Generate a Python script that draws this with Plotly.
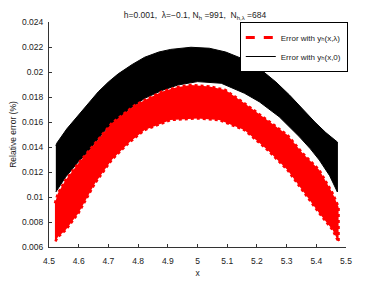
import plotly.graph_objects as go

# Black band (error with y_h(x,0)) envelopes
black_top_x = [4.523, 4.526, 4.56, 4.599, 4.634, 4.666, 4.7, 4.733, 4.78, 4.822, 4.87, 4.91, 4.978, 5.04, 5.095, 5.163, 5.21, 5.264, 5.31, 5.354, 5.395, 5.432, 5.471]
black_top_y = [0.0141, 0.0143, 0.01545, 0.01655, 0.01755, 0.01842, 0.01920, 0.01985, 0.0206, 0.02118, 0.02160, 0.02181, 0.02198, 0.02190, 0.0216, 0.02095, 0.02025, 0.01920, 0.01815, 0.01700, 0.01600, 0.01515, 0.0144]
black_bot_x = [4.523, 4.556, 4.595, 4.634, 4.69, 4.767, 4.822, 4.88, 4.934, 5.0, 5.08, 5.158, 5.208, 5.275, 5.343, 5.38, 5.41, 5.445, 5.471]
black_bot_y = [0.01040, 0.0116, 0.01270, 0.01370, 0.01536, 0.01696, 0.01789, 0.01852, 0.01896, 0.01923, 0.0191, 0.0183, 0.01762, 0.01642, 0.01482, 0.01385, 0.01296, 0.01170, 0.01040]

# Red band (error with y_h(x,lambda)) envelopes
red_top_x = [4.52, 4.53, 4.556, 4.599, 4.655, 4.711, 4.79, 4.879, 4.93, 4.978, 5.04, 5.094, 5.158, 5.236, 5.303, 5.354, 5.41, 5.455, 5.475]
red_top_y = [0.0095, 0.0103, 0.01136, 0.0127, 0.0143, 0.0159, 0.01736, 0.01842, 0.01878, 0.01896, 0.01885, 0.01856, 0.0175, 0.01616, 0.01496, 0.0135, 0.01216, 0.0103, 0.0092]
red_bot_x = [4.52, 4.53, 4.556, 4.599, 4.655, 4.711, 4.767, 4.822, 4.91, 5.0, 5.073, 5.158, 5.236, 5.303, 5.354, 5.41, 5.455, 5.475]
red_bot_y = [0.0064, 0.0068, 0.00736, 0.0087, 0.0111, 0.01296, 0.0143, 0.01536, 0.01616, 0.01629, 0.01616, 0.01536, 0.01376, 0.01216, 0.01056, 0.0087, 0.00736, 0.0064]

y_ticks = [0.006, 0.008, 0.01, 0.012, 0.014, 0.016, 0.018, 0.02, 0.022, 0.024]
y_tick_labels = ["0.006", "0.008", "0.01", "0.012", "0.014", "0.016", "0.018", "0.02", "0.022", "0.024"]
x_ticks = [4.5, 4.6, 4.7, 4.8, 4.9, 5.0, 5.1, 5.2, 5.3, 5.4, 5.5]
x_tick_labels = ["4.5", "4.6", "4.7", "4.8", "4.9", "5", "5.1", "5.2", "5.3", "5.4", "5.5"]

FONT = "Liberation Sans, Arial, DejaVu Sans, sans-serif"
FS = 8.5

fig = go.Figure()

fig.add_trace(go.Scatter(
    x=black_top_x + black_bot_x[::-1],
    y=black_top_y + black_bot_y[::-1],
    fill="toself", fillcolor="black", mode="lines",
    line=dict(color="black", width=1),
    showlegend=False, hoverinfo="skip"))

fig.add_trace(go.Scatter(
    x=red_top_x + red_bot_x[::-1],
    y=red_top_y + red_bot_y[::-1],
    fill="toself", fillcolor="red", mode="lines",
    line=dict(color="red", width=2.5, dash="dot"),
    showlegend=False, hoverinfo="skip"))

# legend entries
fig.add_trace(go.Scatter(x=[None], y=[None], mode="lines",
                         line=dict(color="red", width=3, dash="dash"),
                         name="Error with yₕ(x,λ)"))
fig.add_trace(go.Scatter(x=[None], y=[None], mode="lines",
                         line=dict(color="black", width=1),
                         name="Error with yₕ(x,0)"))

# page body has an 8px default margin; the figure is sized to compensate
fig.update_layout(
    width=374, height=279,
    margin=dict(l=41, r=36, t=14, b=40, autoexpand=False),
    paper_bgcolor="white", plot_bgcolor="white",
    font=dict(family=FONT, size=FS, color="#222"),
    title=dict(text="h=0.001,  λ=−0.1, N<sub>h</sub> =991,  N<sub>h,λ</sub> =684",
               x=0.5, xanchor="center", y=0.975, yanchor="middle",
               font=dict(size=FS, family=FONT, color="#222")),
    legend=dict(x=1.006, xanchor="right", y=1.0, yanchor="top",
                bgcolor="white", bordercolor="black", borderwidth=1,
                font=dict(size=8, family=FONT, color="#222"),
                itemwidth=30, tracegroupgap=0),
    xaxis=dict(range=[4.5, 5.5], tickvals=x_ticks, ticktext=x_tick_labels,
               ticks="inside", ticklen=3, tickcolor="#333",
               showline=True, linecolor="#333", linewidth=1,
               showgrid=False, zeroline=False, mirror=False,
               ticklabelstandoff=6,
               title=dict(text="x", standoff=4, font=dict(size=FS))),
    yaxis=dict(range=[0.006, 0.024], tickvals=y_ticks, ticktext=y_tick_labels,
               ticks="inside", ticklen=3, tickcolor="#333",
               showline=True, linecolor="#333", linewidth=1,
               showgrid=False, zeroline=False, mirror=False,
               ticklabelstandoff=3,
               title=dict(text="Relative error (%)", standoff=4, font=dict(size=FS))),
)

fig.write_html("out.html")
